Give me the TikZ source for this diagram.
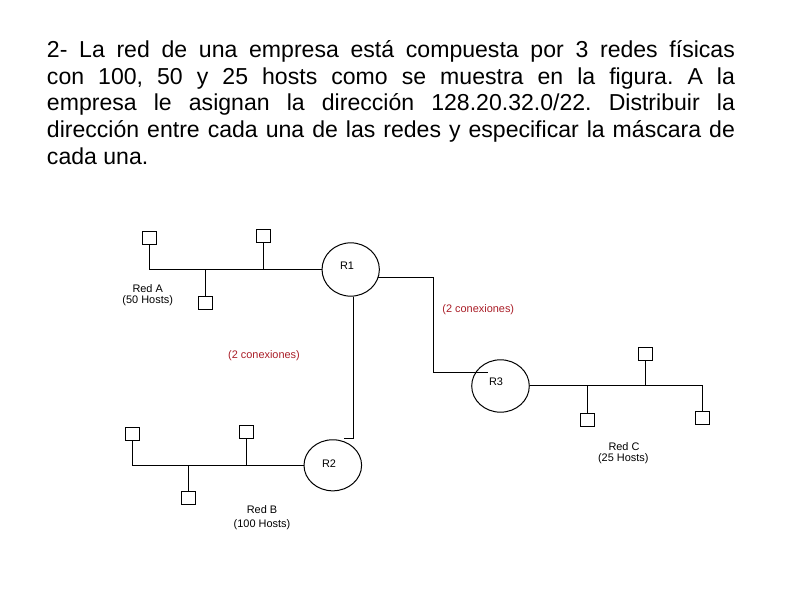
\documentclass[tikz,border=0pt]{standalone}
\usepackage{fontspec}
\setmainfont{Liberation Sans}
\usetikzlibrary{shapes.geometric}
\definecolor{conred}{RGB}{170,30,40}
\frenchspacing
\begin{document}
\begin{tikzpicture}[x=0.75pt,y=-0.75pt,
  host/.style={draw, line width=0.75pt, minimum width=10.5pt, minimum height=10pt, inner sep=0pt},
  router/.style={draw, line width=0.75pt, ellipse, inner sep=0pt},
  wire/.style={line width=0.75pt},
  lbl/.style={font=\fontsize{8.2}{9.8}\selectfont, inner sep=0pt},
  note/.style={lbl, text=conred}]
\fill[white] (0,0) rectangle (794,595);
\useasboundingbox (0,0) rectangle (794,595);
% title
\node[anchor=base west, inner sep=0pt] (title) at (46.7,57.5) {\parbox[t]{516pt}{\fontsize{17.3}{20}\selectfont
\makebox[516pt][s]{2- La red de una empresa está compuesta por 3 redes físicas}\\
\makebox[516pt][s]{con 100, 50 y 25 hosts como se muestra en la figura. A la}\\
\makebox[516pt][s]{empresa le asignan la dirección 128.20.32.0/22. Distribuir la}\\
\makebox[516pt][s]{dirección entre cada una de las redes y especificar la máscara de}\\
cada una.}};
% routers
\node[router, minimum width=43pt, minimum height=40pt] (R1) at (350.7,269.5) {};
\node[router, minimum width=43.2pt, minimum height=38.3pt] (R2) at (332.8,465.3) {};
\node[router, minimum width=43.2pt, minimum height=39.3pt] (R3) at (500.5,386) {};
\node[lbl] (R1l) at (347,266) {R1};
\node[lbl] (R2l) at (329,463.3) {R2};
\node[lbl] (R3l) at (496,381.7) {R3};
% Red A
\node[host] (A1) at (149.6,237.7) {};
\node[host] (A2) at (263,235.7) {};
\node[host] (A3) at (205.8,303) {};
\draw[wire] (A1.south) |- (R1.west);
\draw[wire] (A2.south) -- (A2.south |- R1.west);
\draw[wire] (A3.north) -- (A3.north |- R1.west);
\node[lbl] (RedA1) at (147.7,288.3) {Red A};
\node[lbl] (RedA2) at (147.7,301) {(50 Hosts)};
% Red B
\node[host] (B1) at (132,433.7) {};
\node[host] (B2) at (246,432) {};
\node[host] (B3) at (188.2,497.7) {};
\draw[wire] (B1.south) |- (R2.west);
\draw[wire] (B2.south) -- (B2.south |- R2.west);
\draw[wire] (B3.north) -- (B3.north |- R2.west);
\node[lbl] (RedB1) at (262,510) {Red B};
\node[lbl] (RedB2) at (262,524.3) {(100 Hosts)};
% Red C
\node[host] (C1) at (645.3,354) {};
\node[host] (C2) at (587.5,420) {};
\node[host] (C3) at (702.7,418.3) {};
\draw[wire] (R3.east) -| (C3.north);
\draw[wire] (C1.south) -- (C1.south |- R3.east);
\draw[wire] (C2.north) -- (C2.north |- R3.east);
\node[lbl] (RedC1) at (624,446.7) {Red C};
\node[lbl] (RedC2) at (623.3,458.3) {(25 Hosts)};
% router links
\coordinate (k1) at (433.3,373);
\coordinate (k2) at (488.3,373);
\draw[wire] (R1.-17) -| (k1) -- (k2);
\coordinate (t2) at (343.5,438.5);
\draw[wire] (R1.-84) |- (t2);
\node[note] (con1) at (478.3,309.3) {(2 conexiones)};
\node[note] (con2) at (264,356) {(2 conexiones)};
\end{tikzpicture}
\end{document}
